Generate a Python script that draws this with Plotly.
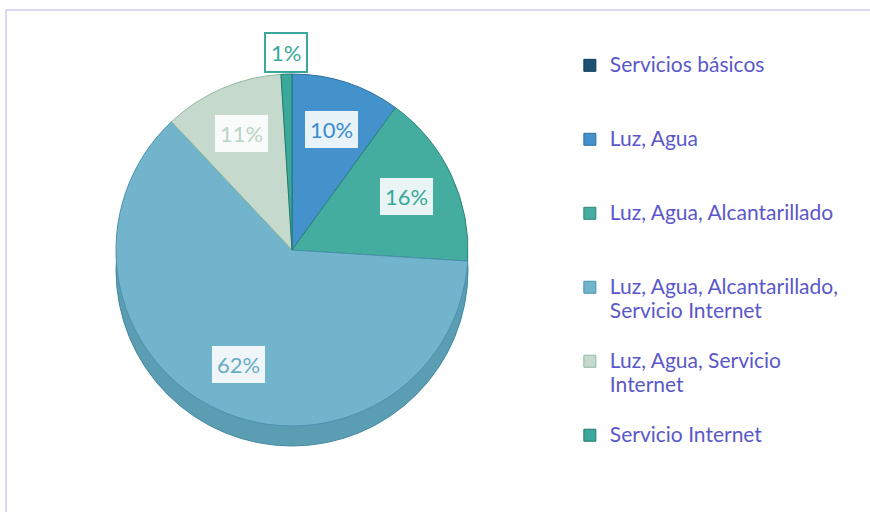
import math
import plotly.graph_objects as go

# ---- data ----
categories = [
    "Servicios básicos",
    "Luz, Agua",
    "Luz, Agua, Alcantarillado",
    "Luz, Agua, Alcantarillado, Servicio Internet",
    "Luz, Agua, Servicio Internet",
    "Servicio Internet",
]
legend_text = [
    "Servicios básicos",
    "Luz, Agua",
    "Luz, Agua, Alcantarillado",
    "Luz, Agua, Alcantarillado,<br>Servicio Internet",
    "Luz, Agua, Servicio<br>Internet",
    "Servicio Internet",
]
percent_values = [0, 10, 16, 62, 11, 1]

# ---- styles ----
slice_colors = ["#1d4f72", "#4392cc", "#45ada0", "#72b4cb", "#c5d9cc", "#3aa89a"]
edge_colors = ["#0d3b5a", "#2d6f9e", "#2b8578", "#4a93ad", "#8fb9a0", "#23796e"]
label_colors = ["#1d4f72", "#3c8ccc", "#3aa89a", "#68abc4", "#bcd3c5", "#3aa89a"]

W, H = 870, 512
cx, cy, R = 292, 250, 176          # pie centre / radius in pixels
depth = 20                           # faux 3-D thickness

dom_x = [(cx - R) / W, (cx + R) / W]
dom_y = [1 - (cy + R) / H, 1 - (cy - R) / H]

LEG_FS = 18.2   # controls the legend row pitch
TXT_FS = 21     # visible legend text size


def legend_label(t):
    lines = t.split("<br>")
    body = "<br>".join(f"<span style='font-size:{TXT_FS}px'>{ln}</span>" for ln in lines)
    return body + "<br> " * (3 - len(lines))


fig = go.Figure()
fig.add_trace(go.Pie(
    labels=[legend_label(t) for t in legend_text],
    values=percent_values,
    sort=False,
    direction="clockwise",
    rotation=0,
    textinfo="none",
    hovertext=categories,
    hoverinfo="text+percent",
    marker=dict(colors=slice_colors, line=dict(color=edge_colors, width=1)),
    domain=dict(x=dom_x, y=dom_y),
))

# faux side of the 3-D pie
fig.add_shape(type="circle", xref="paper", yref="paper", layer="below",
              x0=(cx - R) / W, x1=(cx + R) / W,
              y0=1 - (cy + R + depth) / H, y1=1 - (cy - R + depth) / H,
              fillcolor="#5b9db3", line=dict(color="#3f869f", width=1))

# chart-area border (top and left visible)
fig.add_shape(type="rect", xref="paper", yref="paper",
              x0=6 / W, x1=1.02, y0=-0.02, y1=1 - 10 / H,
              line=dict(color="#d2cbee", width=1.5), fillcolor="rgba(0,0,0,0)")

# data labels, placed from the cumulative values
total = sum(percent_values)
cum = 0
for i, v in enumerate(percent_values):
    start = cum
    cum += v
    if v == 0:
        continue
    mid = (start + v / 2) / total * 2 * math.pi
    outside = v / total < 0.03
    f = 1.12 if outside else 0.72
    px = cx + f * R * math.sin(mid)
    py = cy - f * R * math.cos(mid)
    fig.add_annotation(
        x=px / W, y=1 - py / H, xref="paper", yref="paper",
        xanchor="center", yanchor="middle",
        text=f"{round(v / total * 100)}%", showarrow=False,
        font=dict(family="Lato, sans-serif", size=22, color=label_colors[i]),
        bgcolor="rgba(255,255,255,0.88)",
        bordercolor=label_colors[i] if outside else "rgba(0,0,0,0)",
        borderwidth=2 if outside else 0, borderpad=5,
    )

fig.update_layout(
    width=W, height=H,
    margin=dict(l=0, r=0, t=0, b=0),
    paper_bgcolor="white", plot_bgcolor="white",
    font=dict(family="Lato, sans-serif"),
    legend=dict(
        x=0.655, y=1 - 47 / H, xanchor="left", yanchor="top",
        font=dict(family="Lato, sans-serif", size=LEG_FS, color="#5b57c9"),
        valign="top", traceorder="normal",
        bgcolor="rgba(0,0,0,0)",
    ),
    showlegend=True,
)

fig.write_html("out.html", config={"displayModeBar": False},
               post_script="document.body.style.margin='0';")
